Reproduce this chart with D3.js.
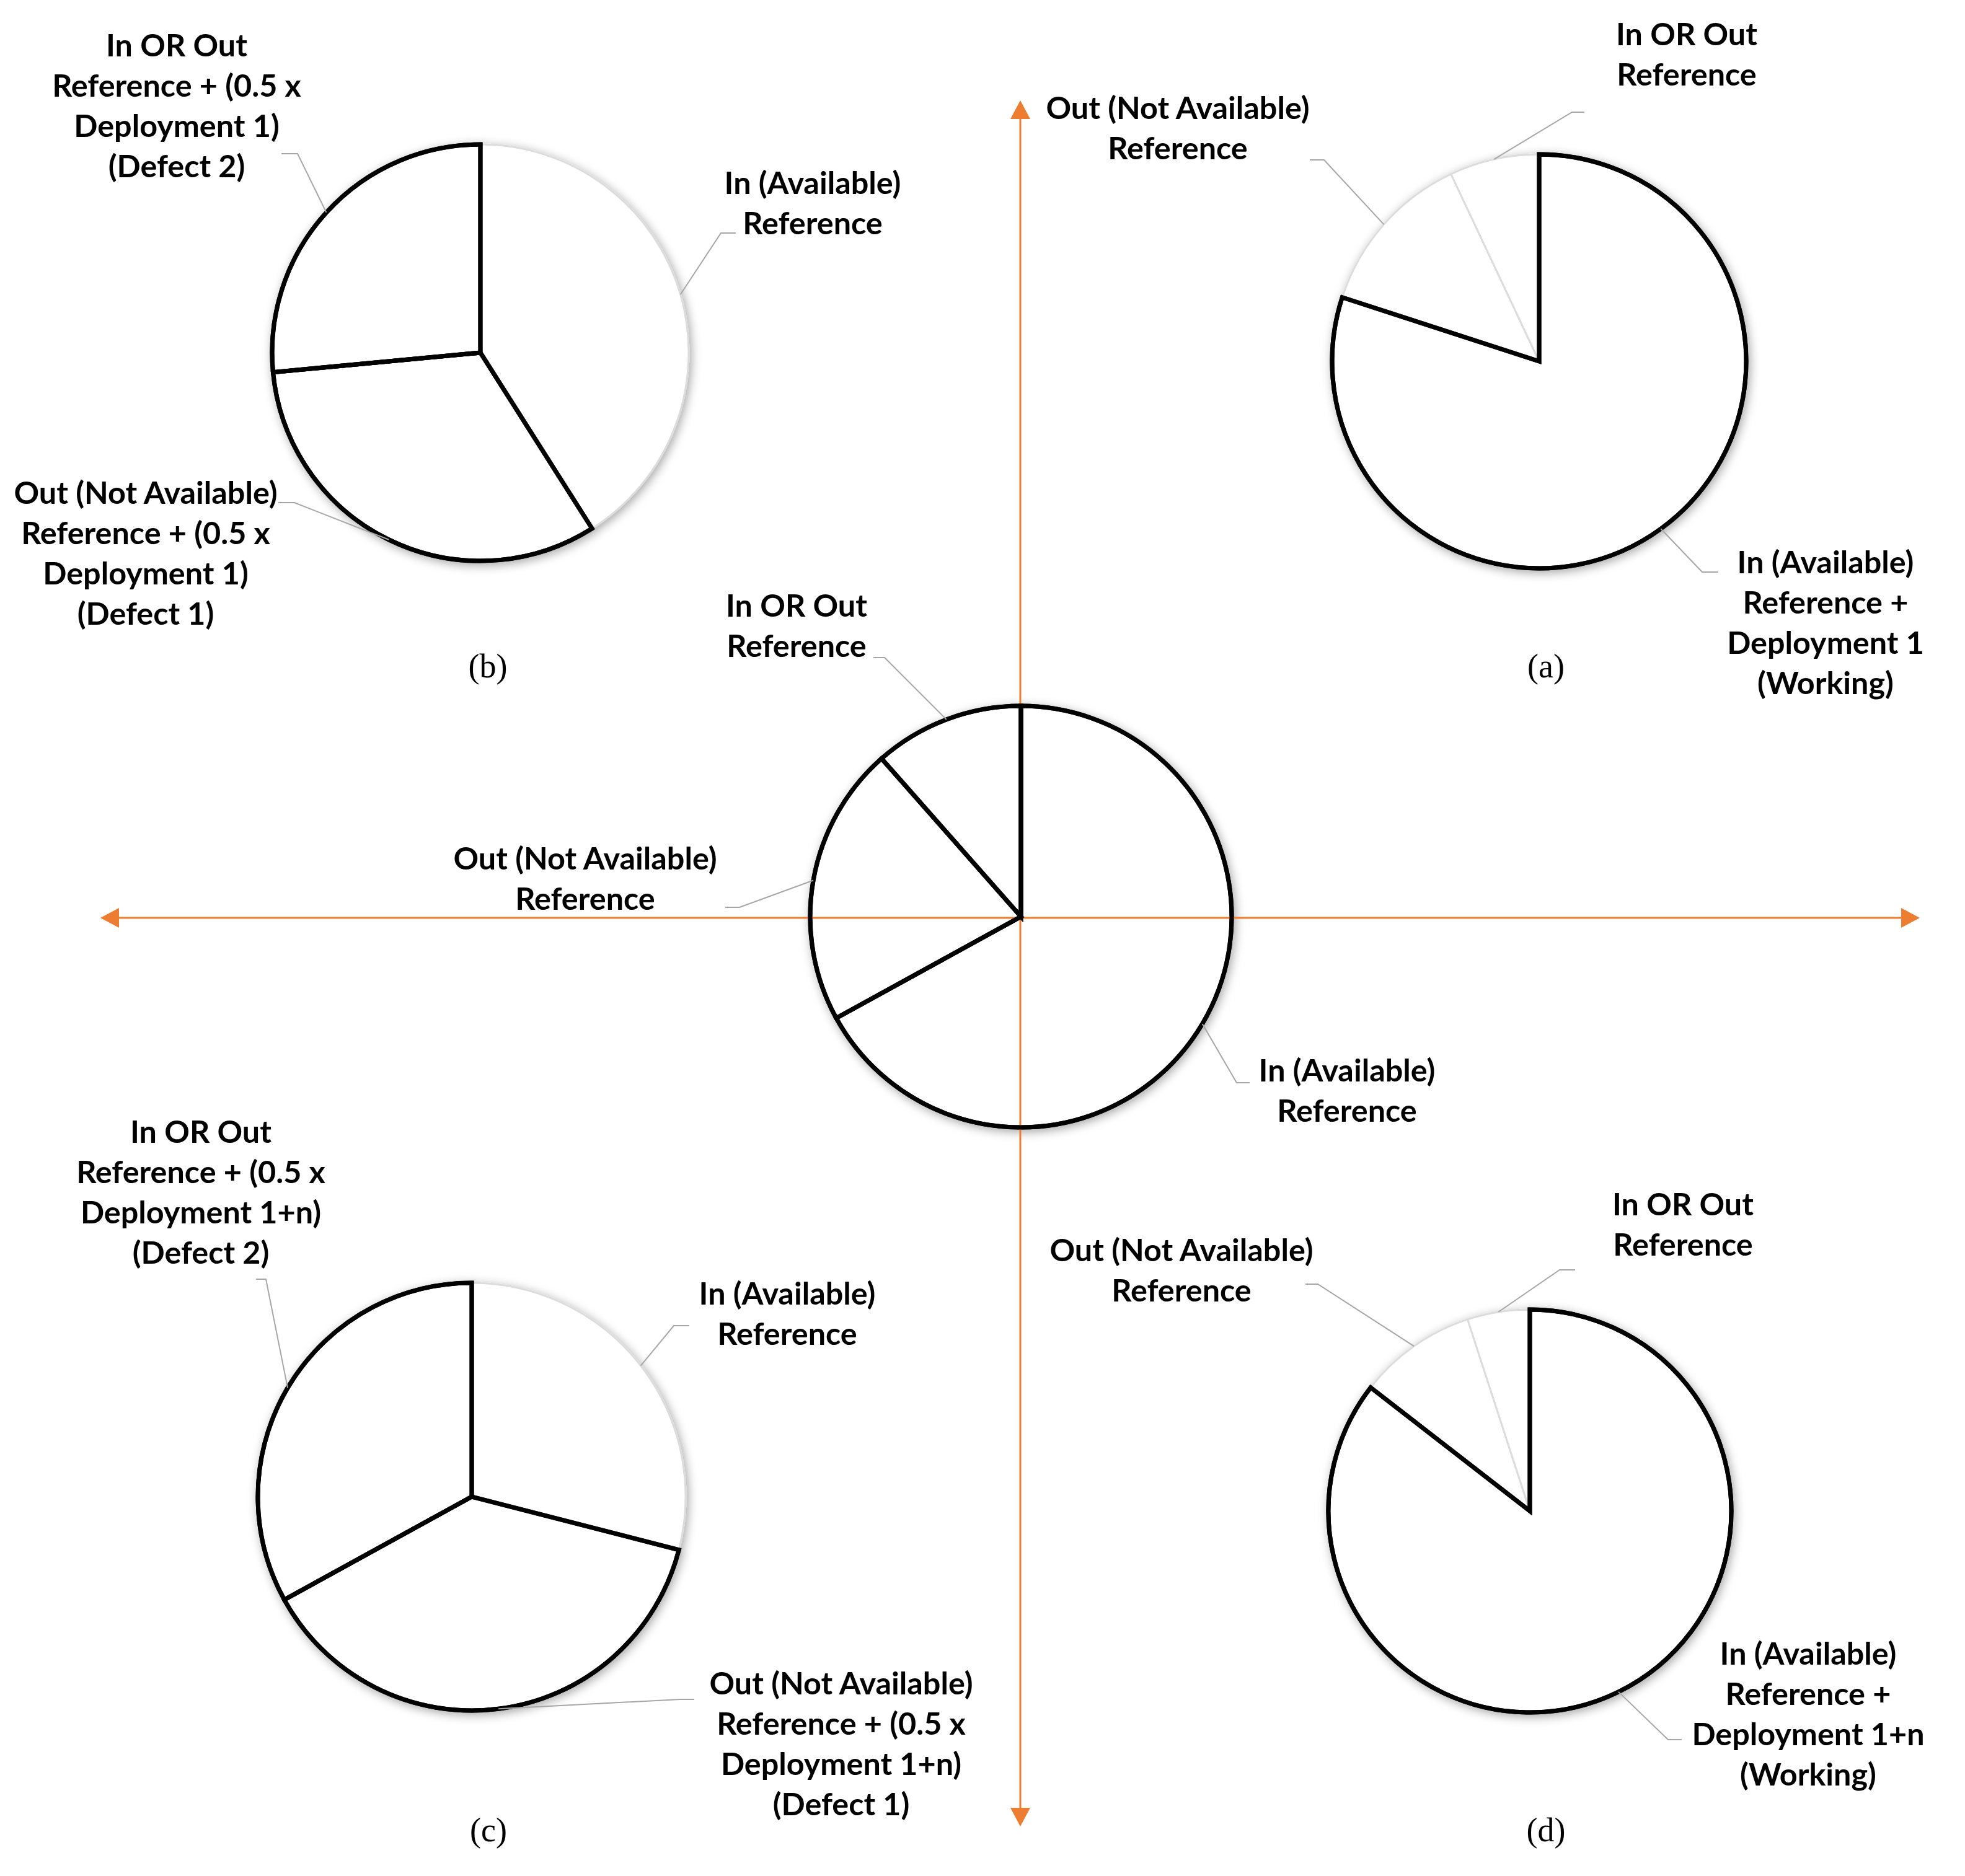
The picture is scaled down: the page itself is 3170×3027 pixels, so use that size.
<!DOCTYPE html>
<html>
<head>
<meta charset="utf-8">
<script src="https://cdn.jsdelivr.net/npm/d3@7"></script>
<style>
  body { margin: 0; background: #fff; }
</style>
</head>
<body>
<script>
"use strict";

const w = 3170;
const h = 3027;

// slices go clockwise from 12 o'clock in this order
const sliceKeys = ["in", "out", "inOrOut"];

// shares (%) of each slice
const refShares = [67, 21.5, 11.5];
const aShares = [80, 13, 7];
const bShares = [41, 32.5, 26.5];
const cShares = [29, 38, 33];
const dShares = [85.5, 9.5, 5];

// which slices get the black outline
const refBold = [true, true, true];
const aBold = [true, false, false];
const bBold = [false, true, true];
const cBold = [false, true, true];
const dBold = [true, false, false];

// label texts, one entry per slice
const refLabels = [
  ["In (Available)", "Reference"],
  ["Out (Not Available)", "Reference"],
  ["In OR Out", "Reference"]
];
const aLabels = [
  ["In (Available)", "Reference +", "Deployment 1", "(Working)"],
  ["Out (Not Available)", "Reference"],
  ["In OR Out", "Reference"]
];
const bLabels = [
  ["In (Available)", "Reference"],
  ["Out (Not Available)", "Reference + (0.5 x", "Deployment 1)", "(Defect 1)"],
  ["In OR Out", "Reference + (0.5 x", "Deployment 1)", "(Defect 2)"]
];
const cLabels = [
  ["In (Available)", "Reference"],
  ["Out (Not Available)", "Reference + (0.5 x", "Deployment 1+n)", "(Defect 1)"],
  ["In OR Out", "Reference + (0.5 x", "Deployment 1+n)", "(Defect 2)"]
];
const dLabels = [
  ["In (Available)", "Reference +", "Deployment 1+n", "(Working)"],
  ["Out (Not Available)", "Reference"],
  ["In OR Out", "Reference"]
];

const captions = ["(a)", "(b)", "(c)", "(d)"];

// layout: pie centre/radius, label anchor (x, first baseline), leader start (sx,sy) and knee (kx)
const pies = [
  { cx: 1647, cy: 1479, r: 340, shares: refShares, bold: refBold, labels: refLabels,
    pos: [{ x: 2173, y: 1745, sx: 2016, sy: 1747, kx: 1995 },
          { x: 944, y: 1403, sx: 1170, sy: 1464, kx: 1193 },
          { x: 1285, y: 995, sx: 1409, sy: 1061, kx: 1427 }] },
  { cx: 2483, cy: 583, r: 334, shares: aShares, bold: aBold, labels: aLabels,
    caption: { text: captions[0], x: 2494, y: 1093 },
    pos: [{ x: 2945, y: 925, sx: 2772, sy: 923, kx: 2746 },
          { x: 1900, y: 192, sx: 2113, sy: 258, kx: 2136 },
          { x: 2721, y: 73, sx: 2556, sy: 181, kx: 2536 }] },
  { cx: 775, cy: 569, r: 336, shares: bShares, bold: bBold, labels: bLabels,
    caption: { text: captions[1], x: 787, y: 1093 },
    pos: [{ x: 1311, y: 313, sx: 1187, sy: 376, kx: 1163 },
          { x: 235, y: 813, sx: 449, sy: 811, kx: 475 },
          { x: 285, y: 91, sx: 454, sy: 248, kx: 480 }] },
  { cx: 761, cy: 2415, r: 345, shares: cShares, bold: cBold, labels: cLabels,
    caption: { text: captions[2], x: 788, y: 2971 },
    pos: [{ x: 1270, y: 2105, sx: 1112, sy: 2139, kx: 1087 },
          { x: 1357, y: 2734, sx: 1120, sy: 2742, kx: 1097 },
          { x: 324, y: 1844, sx: 413, sy: 2064, kx: 429 }] },
  { cx: 2468, cy: 2438, r: 325, shares: dShares, bold: dBold, labels: dLabels,
    caption: { text: captions[3], x: 2494, y: 2971 },
    pos: [{ x: 2917, y: 2686, sx: 2713, sy: 2807, kx: 2691 },
          { x: 1906, y: 2035, sx: 2106, sy: 2072, kx: 2126 },
          { x: 2715, y: 1961, sx: 2541, sy: 2049, kx: 2516 }] }
];

const orange = "#ED7D31";
const labelFont = "Lato, 'Open Sans', sans-serif";
const lineGap = 65;
const boldStroke = 7;

const svg = d3.select("body").append("svg").attr("width", w).attr("height", h);

// soft shadow like the office chart
const defs = svg.append("defs");
const f = defs.append("filter").attr("id", "shadow")
  .attr("x", "-20%").attr("y", "-20%").attr("width", "140%").attr("height", "140%");
f.append("feDropShadow").attr("dx", 3).attr("dy", 4).attr("stdDeviation", 8)
  .attr("flood-color", "#000").attr("flood-opacity", 0.35);

// fit label font size so "Out (Not Available)" is about 425px wide
const probe = svg.append("text").attr("font-family", labelFont).attr("font-weight", 700)
  .attr("font-size", 100).text("Out (Not Available)");
const fontSize = 100 * 425 / probe.node().getComputedTextLength();
probe.remove();

const pie = d3.pie().sort(null).value((d) => d);

const pieLayer = svg.append("g");
const axisLayer = svg.append("g");
const outlineLayer = svg.append("g");
const textLayer = svg.append("g");

pies.forEach((p) => {
  const arcs = pie(p.shares);
  const arc = d3.arc().innerRadius(0).outerRadius(p.r);

  const g = pieLayer.append("g")
    .attr("transform", `translate(${p.cx},${p.cy})`)
    .attr("filter", "url(#shadow)");

  // plain slices first, outlined ones on top
  const order = arcs.map((a, i) => i).sort((i, j) => p.bold[i] - p.bold[j]);
  g.selectAll("path")
    .data(order.map((i) => arcs[i]))
    .join("path")
    .attr("d", arc)
    .attr("fill", "#fff")
    .attr("stroke", (d) => (p.bold[d.index] ? "#000" : "#dcdcdc"))
    .attr("stroke-width", (d) => (p.bold[d.index] ? boldStroke : 3))
    .attr("stroke-linejoin", "miter");

  // outlines again above the orange axes
  outlineLayer.append("g")
    .attr("transform", `translate(${p.cx},${p.cy})`)
    .selectAll("path")
    .data(arcs.filter((d) => p.bold[d.index]))
    .join("path")
    .attr("d", arc)
    .attr("fill", "none")
    .attr("stroke", "#000")
    .attr("stroke-width", boldStroke);

  // leader lines from slice mid-angle on the rim
  arcs.forEach((a, i) => {
    const mid = (a.startAngle + a.endAngle) / 2;
    const ex = p.cx + p.r * Math.sin(mid);
    const ey = p.cy - p.r * Math.cos(mid);
    const q = p.pos[i];
    textLayer.append("polyline")
      .attr("points", `${q.sx},${q.sy} ${q.kx},${q.sy} ${ex},${ey}`)
      .attr("fill", "none")
      .attr("stroke", "#a6a6a6")
      .attr("stroke-width", 2);

    const t = textLayer.append("text")
      .attr("x", q.x).attr("y", q.y)
      .attr("text-anchor", "middle")
      .attr("font-family", labelFont)
      .attr("font-weight", 700)
      .attr("font-size", fontSize)
      .attr("fill", "#000");
    p.labels[i].forEach((line, k) => {
      t.append("tspan").attr("x", q.x).attr("y", q.y + k * lineGap).text(line);
    });
  });

  if (p.caption) {
    textLayer.append("text")
      .attr("x", p.caption.x).attr("y", p.caption.y)
      .attr("text-anchor", "middle")
      .attr("font-family", "'Liberation Serif', 'Times New Roman', serif")
      .attr("font-size", 54)
      .attr("fill", "#000")
      .text(p.caption.text);
  }
});

// orange cross with arrow heads
const axX = 1646, axY = 1481;
const x0 = 162, x1 = 3097, y0 = 162, y1 = 2947, head = 30, half = 16;

axisLayer.append("line").attr("x1", x0 + head).attr("x2", x1 - head)
  .attr("y1", axY).attr("y2", axY).attr("stroke", orange).attr("stroke-width", 3);
axisLayer.append("line").attr("y1", y0 + head).attr("y2", y1 - head)
  .attr("x1", axX).attr("x2", axX).attr("stroke", orange).attr("stroke-width", 3);

const heads = [
  [[x0, axY], [x0 + head, axY - half], [x0 + head, axY + half]],
  [[x1, axY], [x1 - head, axY - half], [x1 - head, axY + half]],
  [[axX, y0], [axX - half, y0 + head], [axX + half, y0 + head]],
  [[axX, y1], [axX - half, y1 - head], [axX + half, y1 - head]]
];
axisLayer.selectAll("polygon")
  .data(heads)
  .join("polygon")
  .attr("points", (d) => d.map((pt) => pt.join(",")).join(" "))
  .attr("fill", orange);
</script>
</body>
</html>
